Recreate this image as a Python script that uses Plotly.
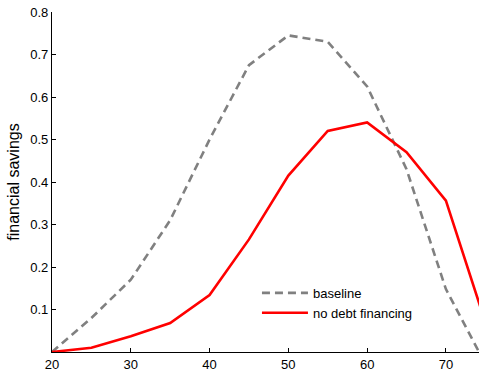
import plotly.graph_objects as go

# Age grid and savings profiles
ages = [20, 25, 30, 35, 40, 45, 50, 55, 60, 65, 70, 75]
baseline = [0.0, 0.08, 0.17, 0.31, 0.50, 0.675, 0.745, 0.73, 0.625, 0.43, 0.148, -0.028]
no_debt = [0.0, 0.01, 0.037, 0.068, 0.134, 0.265, 0.415, 0.52, 0.54, 0.47, 0.356, 0.07]

x_ticks = [20, 30, 40, 50, 60, 70]
y_ticks = [0.1, 0.2, 0.3, 0.4, 0.5, 0.6, 0.7, 0.8]

FONT = "Liberation Sans, Arial, Helvetica, sans-serif"

fig = go.Figure()
fig.add_trace(go.Scatter(
    x=ages, y=baseline, mode="lines", name="baseline",
    line=dict(color="#808080", width=2.6, dash="8px,5px"),
))
fig.add_trace(go.Scatter(
    x=ages, y=no_debt, mode="lines", name="no debt financing",
    line=dict(color="#ff0000", width=2.6),
))

fig.update_layout(
    width=479, height=371,
    margin=dict(l=52, r=0, t=12, b=19),
    paper_bgcolor="white", plot_bgcolor="white",
    font=dict(family=FONT, size=13, color="black"),
    showlegend=True,
    legend=dict(
        x=0.48, y=0.218, xanchor="left", yanchor="top",
        bgcolor="rgba(0,0,0,0)", font=dict(size=13),
        tracegroupgap=0, itemwidth=46,
    ),
    xaxis=dict(
        range=[20, 74.2], tickvals=x_ticks, ticktext=[str(v) for v in x_ticks],
        ticks="inside", ticklen=4, tickcolor="black", tickwidth=1,
        showline=True, linecolor="black", linewidth=1.2,
        showgrid=False, zeroline=False, mirror=False,
        tickfont=dict(size=13),
    ),
    yaxis=dict(
        range=[0, 0.8], tickvals=y_ticks, ticktext=[f"{v:.1f}" for v in y_ticks],
        ticks="inside", ticklen=4, tickcolor="black", tickwidth=1,
        showline=True, linecolor="black", linewidth=1.2,
        showgrid=False, zeroline=False, mirror=False,
        tickfont=dict(size=13),
        title=dict(text="financial savings", font=dict(size=16), standoff=6),
    ),
)

fig.write_html("out.html")
